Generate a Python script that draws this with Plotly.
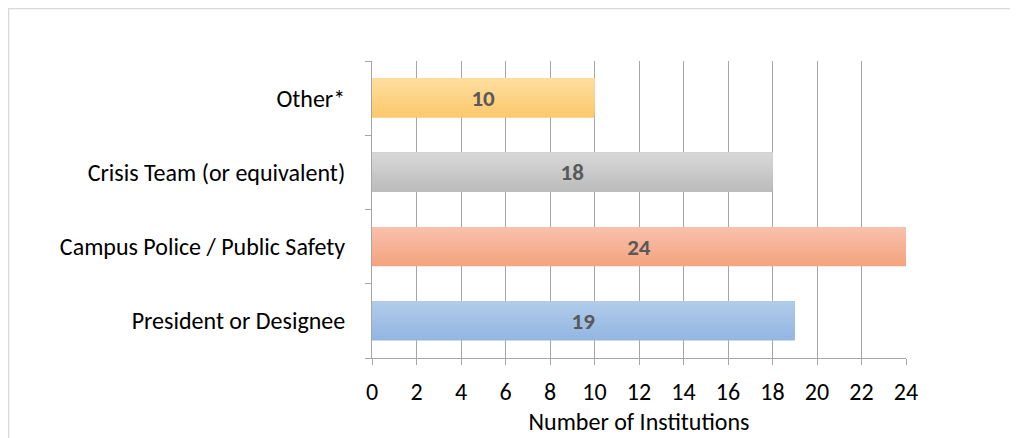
import plotly.graph_objects as go

categories = ["President or Designee", "Campus Police / Public Safety",
              "Crisis Team (or equivalent)", "Other*"]
values = [19, 24, 18, 10]
top_colors = ["#b1cbea", "#f8c0ab", "#d7d7d7", "#fedd9e"]
bottom_colors = ["#93b6e2", "#f4a47f", "#bcbcbc", "#fcc96c"]
x_ticks = list(range(0, 25, 2))
x_title = "Number of Institutions"

FONT = "Carlito, Lato, 'Open Sans', sans-serif"
N = 14
BAR_W = 0.53


def hex2rgb(h):
    h = h.lstrip("#")
    return [int(h[i:i + 2], 16) for i in (0, 2, 4)]


def mix(c1, c2, t):
    a, b = hex2rgb(c1), hex2rgb(c2)
    return "rgb(%d,%d,%d)" % tuple(round(a[i] + (b[i] - a[i]) * t) for i in range(3))


fig = go.Figure()
# gradient: each layer starts higher and covers to the top of the bar
for i in range(N):
    cols = [mix(tc, bc, (N - 1 - i) / (N - 1)) for tc, bc in zip(top_colors, bottom_colors)]
    fig.add_trace(go.Bar(
        y=categories, x=values, orientation="h",
        width=BAR_W - i * BAR_W / N, offset=-BAR_W / 2 + i * BAR_W / N,
        marker=dict(color=cols, line=dict(width=0)),
        hoverinfo="skip", showlegend=False,
    ))

# text carrier
fig.add_trace(go.Bar(
    y=categories, x=values, orientation="h", width=BAR_W,
    marker=dict(color="rgba(0,0,0,0)", line=dict(width=0)),
    text=[str(v) for v in values], textposition="inside",
    insidetextanchor="middle", constraintext="none",
    textfont=dict(family=FONT, size=23, color="#595959", weight="bold"),
    showlegend=False,
))

fig.update_layout(
    width=1010, height=430,
    margin=dict(l=364, r=112, t=53, b=80),
    barmode="overlay",
    plot_bgcolor="white", paper_bgcolor="white",
    font=dict(family=FONT, color="#000000"),
    xaxis=dict(
        range=[0, 24], tickvals=x_ticks, ticktext=[str(v) for v in x_ticks],
        showgrid=True, gridcolor="#a6a6a6", gridwidth=1,
        showline=True, linecolor="#a6a6a6", linewidth=1,
        ticks="outside", ticklen=6, tickcolor="#a6a6a6",
        tickfont=dict(size=24, family=FONT, color="#000000"),
        ticklabelstandoff=6, automargin=False,
        title=dict(text=x_title, font=dict(size=24, family=FONT), standoff=8),
        zeroline=False, fixedrange=True,
    ),
    yaxis=dict(
        categoryorder="array", categoryarray=categories,
        showgrid=False, showline=True, linecolor="#a6a6a6", linewidth=1,
        ticks="outside", ticklen=6, tickcolor="#a6a6a6", tickson="boundaries",
        tickfont=dict(size=24, family=FONT, color="#000000"),
        ticklabelstandoff=21, automargin=False,
    ),
    shapes=[dict(type="rect", xref="paper", yref="paper",
                 x0=-364 / 534 + 0.001, x1=1.3, y0=-0.4, y1=1 + 52.5 / 297,
                 line=dict(color="#d9d9d9", width=1.5), fillcolor="rgba(0,0,0,0)",
                 layer="below")],
)

fig.write_html("out.html")
